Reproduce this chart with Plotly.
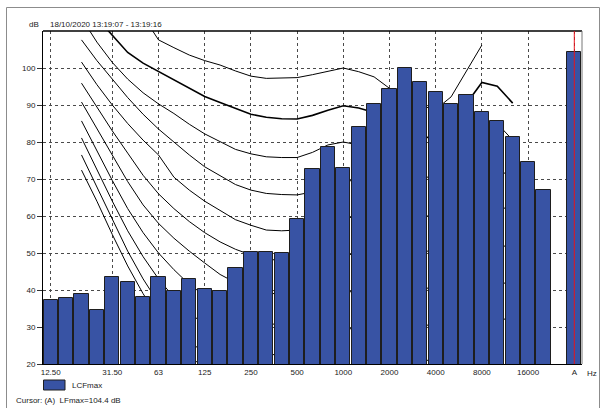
import plotly.graph_objects as go

# ---- data -------------------------------------------------------------
band_labels = ["12.5", "16", "20", "25", "31.5", "40", "50", "63", "80", "100",
               "125", "160", "200", "250", "315", "400", "500", "630", "800", "1000",
               "1250", "1600", "2000", "2500", "3150", "4000", "5000", "6300", "8000",
               "10000", "12500", "16000", "20000", "", "A"]
lcfmax = [37.3, 37.8, 38.8, 34.6, 43.4, 42.2, 38.2, 43.4, 39.8, 42.9,
          40.2, 39.6, 46.0, 50.4, 50.2, 50.0, 59.1, 72.6, 78.7, 72.9,
          84.0, 90.4, 94.2, 100.1, 96.2, 93.5, 90.4, 92.6, 88.1,
          85.7, 81.3, 74.7, 66.9, None, 104.4]

tick_idx = [0, 4, 7, 10, 13, 16, 19, 22, 25, 28, 31, 34]
tick_text = ["12.50", "31.50", "63", "125", "250", "500", "1000", "2000",
             "4000", "8000", "16000", "A"]
y_ticks = [20, 30, 40, 50, 60, 70, 80, 90, 100]

# equal-loudness contours (dB per band, first value at the given band index)
phon100_start = 6
phon100 = [114, 107.6, 105.5, 103.5, 102, 100.8, 99.2, 97.8, 97.2, 97.2, 97.4, 98.2,
           99.1, 100.0, 99.0, 97.6, 94.5, 91.5, 89.8, 88.8, 92.2, 99.2, 106.2]
phon90_start = 3
phon90 = [113.5, 108.8, 104.2, 101.3, 99.0, 96.8, 94.5, 92.3, 90.7, 89.0, 87.5, 86.7,
          86.3, 86.2, 87.2, 88.6, 89.8, 89.2, 88.0, 86.0, 83.5, 81.5, 81.0, 83.5,
          90.4, 96.1, 95.1, 90.5]
phon80_start = 2
phon80 = [113.5, 107, 101.5, 97, 93.3, 90.3, 87.7, 84.8, 82.2, 80.0, 78.0, 76.8, 76.0,
          75.8, 75.8, 77.2, 79.2, 80.0, 79.2, 77.8, 75.5, 72.5, 70.5, 70.5, 73, 79,
          84.5, 85, 80.5]
phon70_start = 2
phon70 = [107.6, 102, 97, 92, 87.5, 83.5, 80, 76.5, 73.3, 70.8, 68.5, 67, 66.1, 65.8,
          65.7, 66.5, 68.3, 70, 69, 67.5, 65, 62, 60, 60, 62.5, 67, 72, 73, 70]
phon60_start = 2
phon60 = [101.6, 95.5, 90, 85, 80.5, 76.5, 70.5, 67, 64, 61.6, 59, 57.5, 56.2, 56,
          56.2, 57.5, 59, 60, 59.2, 57.8, 55.5, 52.5, 50.5, 50.5, 53, 58.5, 63.5, 64, 60]
phon50_start = 2
phon50 = [95.9, 89.5, 83, 77, 71, 66, 62, 58.5, 55.5, 53, 51, 49.5, 48.5, 47.8, 47.5,
          48.5, 49.5, 50, 49.2, 47.8, 45.5, 42.5, 40.5, 40.5, 43, 48, 53, 53.5, 50]
phon40_start = 2
phon40 = [90.8, 83.5, 76.5, 69.3, 63, 58, 54, 50.5, 47.3, 44.2, 42, 40.5, 39.5, 38.5,
          38.2, 39, 39.8, 40, 39, 37.5, 35.5, 32.5, 30.5, 30.5, 33, 38, 43, 43.5, 40]
phon30_start = 2
phon30 = [85.7, 77.5, 69.6, 62, 55.5, 50, 45.5, 41.5, 38.5, 36, 34, 32.5, 31.2, 30.3,
          29.8, 29.8, 30, 30, 29, 27.5, 25.5, 23, 21, 21, 23, 28, 33, 34, 30]
phon20_start = 2
phon20 = [81.1, 72.4, 64, 56, 49, 43, 38, 34, 30.5, 28, 26, 24.5, 23, 22, 21, 20.5,
          20.2, 20, 19.5]
phon10_start = 2
phon10 = [76.5, 67.8, 59, 50.5, 43, 36.5, 31, 26.5, 22.5, 19.5, 17]
threshold_start = 2
threshold = [72.4, 64, 55, 46.5, 39, 32.5, 27, 22.5, 18.5]

contours = [
    (phon100_start, phon100, 1.0),
    (phon90_start, phon90, 1.6),
    (phon80_start, phon80, 1.0),
    (phon70_start, phon70, 1.0),
    (phon60_start, phon60, 1.0),
    (phon50_start, phon50, 1.0),
    (phon40_start, phon40, 1.0),
    (phon30_start, phon30, 1.0),
    (phon20_start, phon20, 1.0),
    (phon10_start, phon10, 1.0),
    (threshold_start, threshold, 1.0),
]

header = "18/10/2020 13:19:07 - 13:19:16"
cursor_text = "Cursor: (A)  LFmax=104.4 dB"
legend_name = "LCFmax"

# ---- figure -----------------------------------------------------------
FONT = "Arial, Liberation Sans, sans-serif"
W, H = 604, 408
L, R, T, B = 43, 582, 31, 364
pw, ph = R - L, B - T


def px(x):
    return (x - L) / pw


def py(y):
    return (B - y) / ph


fig = go.Figure()

for start, vals, w in contours:
    fig.add_trace(go.Scatter(
        x=list(range(start, start + len(vals))), y=vals, mode="lines",
        line=dict(color="black", width=w), showlegend=False, hoverinfo="skip",
        xaxis="x", yaxis="y"))

xs = list(range(len(band_labels)))
fig.add_trace(go.Bar(
    x=xs, y=lcfmax, width=0.91,
    marker=dict(color="#3853a4", line=dict(color="#1e1e1e", width=1)),
    name=legend_name, showlegend=False, xaxis="x2", yaxis="y2"))

xr = [-0.5, len(band_labels) - 0.5]
yr = [20, 110]
grid = dict(showgrid=True, gridcolor="#4a4a4a", griddash="dot", gridwidth=1)

fig.update_layout(
    width=W, height=H,
    margin=dict(l=L, r=W - R, t=T, b=H - B, pad=0),
    paper_bgcolor="white", plot_bgcolor="white",
    font=dict(family=FONT, size=8, color="#222222"),
    showlegend=False,
    bargap=0,
    xaxis=dict(range=xr, tickmode="array", tickvals=tick_idx, ticktext=tick_text,
               showline=True, linecolor="black", linewidth=1, ticks="",
               zeroline=False, tickfont=dict(size=8), **grid),
    yaxis=dict(range=yr, tickmode="array", tickvals=y_ticks,
               showline=True, linecolor="black", linewidth=1, ticks="outside",
               ticklen=5, tickcolor="#333333", zeroline=False,
               tickfont=dict(size=8), **grid),
    xaxis2=dict(range=xr, overlaying="x", visible=False, showgrid=False),
    yaxis2=dict(range=yr, overlaying="y", visible=False, showgrid=False),
)

shapes = [
    # outer frame
    dict(type="rect", xref="paper", yref="paper", x0=px(6.5), x1=px(599.5),
         y0=py(414), y1=py(7.5), line=dict(color="#8c8c8c", width=1)),
    # top border of plot
    dict(type="line", xref="paper", yref="paper", x0=0, x1=1, y0=1, y1=1,
         line=dict(color="black", width=1.5)),
    # right border of plot
    dict(type="line", xref="paper", yref="paper", x0=1, x1=1, y0=0, y1=1,
         line=dict(color="#777777", width=1)),
    # cursor line
    dict(type="line", xref="x", yref="paper", x0=34, x1=34, y0=0, y1=1,
         line=dict(color="#e8141c", width=1), layer="above"),
    # legend swatch
    dict(type="rect", xref="paper", yref="paper", x0=px(43.5), x1=px(65),
         y0=py(390), y1=py(380), fillcolor="#3853a4",
         line=dict(color="#1e1e1e", width=1)),
]
fig.update_layout(shapes=shapes)

ann = [
    dict(text="dB", x=px(27), y=py(25), xanchor="left", yanchor="middle"),
    dict(text=header, x=px(48), y=py(25), xanchor="left", yanchor="middle"),
    dict(text="Hz", x=px(585), y=py(373), xanchor="left", yanchor="middle"),
    dict(text=legend_name, x=px(70), y=py(385.5), xanchor="left", yanchor="middle"),
    dict(text=cursor_text, x=px(14), y=py(400.5), xanchor="left", yanchor="middle"),
]
for a in ann:
    a.update(xref="paper", yref="paper", showarrow=False,
             font=dict(family=FONT, size=8, color="#222222"))
fig.update_layout(annotations=ann)

fig.write_html("out.html",
               config={"displayModeBar": False},
               post_script="document.body.style.margin='0';"
                           "document.body.style.overflow='hidden';")
